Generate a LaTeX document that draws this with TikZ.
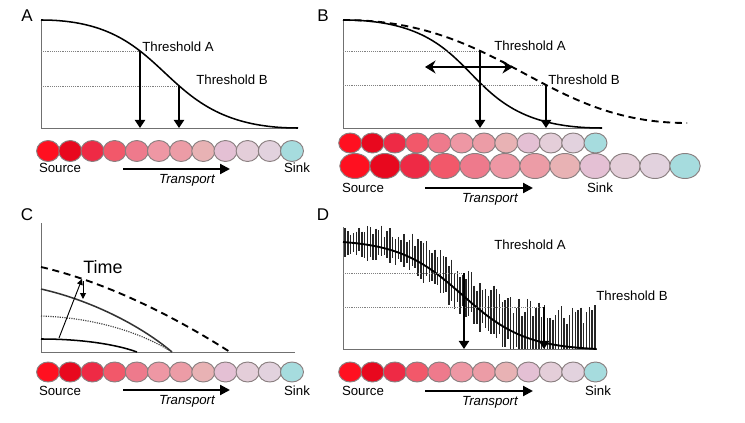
\documentclass[tikz,border=0pt]{standalone}
\usepackage{fontspec}
\setmainfont{Liberation Sans}
\usetikzlibrary{arrows.meta,shapes.geometric}

\newdimen\px \px=0.03cm

\definecolor{c1}{HTML}{FF1020}
\definecolor{c2}{HTML}{E8081E}
\definecolor{c3}{HTML}{EE2A45}
\definecolor{c4}{HTML}{F2586A}
\definecolor{c5}{HTML}{EE7A8C}
\definecolor{c6}{HTML}{EE97A4}
\definecolor{c7}{HTML}{EC9CA6}
\definecolor{c8}{HTML}{E8B2B4}
\definecolor{c9}{HTML}{E4C0D4}
\definecolor{c10}{HTML}{E4CED9}
\definecolor{c11}{HTML}{E2D2DE}
\definecolor{c12}{HTML}{A6DCDE}
\definecolor{cellrim}{HTML}{8A7F80}
\definecolor{axisgray}{HTML}{707070}

\tikzset{
  cell/.style={ellipse, draw=cellrim, line width=0.8pt, inner sep=0pt,
    minimum width=23\px, minimum height=20\px},
  bigcell/.style={cell, minimum width=30.5\px, minimum height=25\px},
  axis/.style={draw=axisgray, line width=0.8pt},
  level/.style={densely dotted, draw=gray, line width=0.6pt},
  curve/.style={line width=1.3pt},
  guess/.style={line width=1.6pt, dash pattern=on 6pt off 4pt},
  drop/.style={-{Triangle[length=7pt,width=9pt]}, line width=1.2pt},
  flow/.style={-{Triangle[length=8.5pt,width=8.5pt]}, line width=1.8pt},
  swing/.style={{Stealth[length=9pt,width=11pt]}-{Stealth[length=9pt,width=11pt]}, line width=2.5pt},
  spike/.style={line width=1.25pt, draw=black!85},
  lbl/.style={font=\fontsize{11.3}{13}\selectfont, inner sep=0pt},
  tp/.style={font=\fontsize{11.3}{13}\selectfont\itshape, inner sep=0pt},
  panel/.style={font=\fontsize{14.5}{16}\selectfont, inner sep=0pt},
  declare function={sig(\t)=(1/(1+exp(-8*(\t-0.47)))-0.02275)/0.96305;}
}

\begin{document}
\begin{tikzpicture}[x=0.03cm, y=-0.03cm]
  \useasboundingbox (0,0) rectangle (745,423);

  % panel A
  \node[panel] (labA) at (27,16) {A};
  \coordinate (topA) at (41,20);
  \coordinate (oA) at (41,128);
  \coordinate (endA) at (298,128);
  \draw[axis] (topA) -- (oA) -- (endA);
  \draw[curve] (topA) .. controls (178,20) and (152,128) .. (endA);
  \coordinate (hA1) at (140,51);
  \coordinate (hA2) at (179,86);
  \draw[level] (topA |- hA1) -- (hA1);
  \draw[level] (topA |- hA2) -- (hA2);
  \draw[drop] (hA1) -- (hA1 |- oA);
  \draw[drop] (hA2) -- (hA2 |- oA);
  \node[lbl] (thA1) at (178,47) {Threshold A};
  \node[lbl] (thA2) at (232,80) {Threshold B};
  \foreach \i in {1,...,12}
    \node[cell, fill=c\i, minimum height=21\px] (a\i) at ({48.1+(\i-1)*22.17},151) {};
  \node[lbl] (srcA) at (60,168) {Source};
  \node[lbl] (snkA) at (297,168) {Sink};
  \coordinate (trA1) at (123,169);
  \coordinate (trA2) at (230,169);
  \draw[flow] (trA1) -- (trA2);
  \node[tp] (tpA) at (187,180) {Transport};

  % panel B
  \node[panel] (labB) at (323,16) {B};
  \coordinate (topB) at (343,20);
  \coordinate (oB) at (343,128);
  \coordinate (endB) at (602,128);
  \coordinate (farB) at (687,123);
  \draw[axis] (topB) -- (oB) -- (endB);
  \draw[curve] (topB) .. controls (495,20) and (447,128) .. (endB);
  \draw[guess] (topB) .. controls (502,20) and (543,123) .. (farB);
  \coordinate (hB1) at (480,51);
  \coordinate (hB2) at (546,85);
  \draw[level] (topB |- hB1) -- (hB1);
  \draw[level] (topB |- hB2) -- (hB2);
  \draw[drop] (hB1) -- (hB1 |- oB);
  \draw[drop] (hB2) -- (hB2 |- oB);
  \coordinate (mvB1) at (425,67);
  \coordinate (mvB2) at (513,67);
  \draw[swing] (mvB1) -- (mvB2);
  \node[lbl] (thB1) at (530,46) {Threshold A};
  \node[lbl] (thB2) at (584,80) {Threshold B};
  \foreach \i in {1,...,12}
    \node[cell, fill=c\i] (b\i) at ({350.2+(\i-1)*22.3},143) {};
  \foreach \i in {1,...,12}
    \node[bigcell, fill=c\i] (bb\i) at ({355+(\i-1)*30},166) {};
  \node[lbl] (srcB) at (363,188) {Source};
  \node[lbl] (snkB) at (600,188) {Sink};
  \coordinate (trB1) at (425,188);
  \coordinate (trB2) at (533,188);
  \draw[flow] (trB1) -- (trB2);
  \node[tp] (tpB) at (490,199) {Transport};

  % panel C
  \node[panel] (labC) at (27,215) {C};
  \coordinate (topC) at (41,223);
  \coordinate (oC) at (41,352);
  \coordinate (endC) at (295,352);
  \draw[axis] (topC) -- (oC) -- (endC);
  \draw[guess] (41,267) .. controls (110,283) and (180,320) .. (230,352);
  \draw[curve, draw=black!80] (41,289) .. controls (90,300) and (140,325) .. (172,352);
  \draw[densely dotted, line width=1pt, draw=black!75] (41,316) .. controls (100,318) and (145,335) .. (172,352);
  \draw[curve] (41,339) .. controls (80,339) and (115,344) .. (137,352);
  \coordinate (tmC1) at (59,338);
  \coordinate (tmC2) at (82,279);
  \coordinate (tmC3) at (83,281);
  \coordinate (tmC4) at (83,299);
  \draw[-{Triangle[length=5pt,width=5pt]}, line width=0.8pt] (tmC1) -- (tmC2);
  \draw[-{Triangle[length=5pt,width=5pt]}, line width=0.8pt] (tmC3) -- (tmC4);
  \node[font=\fontsize{15.3}{17}\selectfont, inner sep=0pt] (time) at (103,267) {Time};
  \foreach \i in {1,...,12}
    \node[cell, fill=c\i] (c\i) at ({48.1+(\i-1)*22.17},372) {};
  \node[lbl] (srcC) at (60,391) {Source};
  \node[lbl] (snkC) at (297,391) {Sink};
  \coordinate (trC1) at (123,390);
  \coordinate (trC2) at (230,390);
  \draw[flow] (trC1) -- (trC2);
  \node[tp] (tpC) at (187,401) {Transport};

  % panel D
  \node[panel] (labD) at (323,215) {D};
  \coordinate (topD) at (343,227);
  \coordinate (oD) at (343,349);
  \coordinate (endD) at (597,349);
  \draw[axis] (topD) -- (oD) -- (endD);
  \pgfmathsetseed{11}
  \foreach \k in {0,...,89}{
    \pgfmathsetmacro{\u}{\k/89}
    \pgfmathsetmacro{\yc}{242+107*sig(\u)}
    \pgfmathsetmacro{\yt}{\yc-7-18*\u-rnd*(11+12*\u)}
    \pgfmathsetmacro{\yb}{min(349,\yc+5+6*\u+rnd*(11+12*\u))}
    \draw[spike] ({345+250*\u},\yt) -- ({345+250*\u},\yb);
  }
  \draw[curve, line width=1.6pt] plot[domain=0:1, samples=120] ({343+254*\x},{242+107*sig(\x)});
  \coordinate (hD1) at (464,273);
  \coordinate (hD2) at (544,307);
  \draw[level] (topD |- hD1) -- (hD1);
  \draw[level] (topD |- hD2) -- (hD2);
  \draw[drop] (hD1) -- (hD1 |- oD);
  \draw[drop] (hD2) -- (hD2 |- oD);
  \node[lbl] (thD1) at (530,245) {Threshold A};
  \node[lbl] (thD2) at (632,296) {Threshold B};
  \foreach \i in {1,...,12}
    \node[cell, fill=c\i] (d\i) at ({350.2+(\i-1)*22.3},372) {};
  \node[lbl] (srcD) at (363,391) {Source};
  \node[lbl] (snkD) at (598,391) {Sink};
  \coordinate (trD1) at (425,391);
  \coordinate (trD2) at (533,391);
  \draw[flow] (trD1) -- (trD2);
  \node[tp] (tpD) at (490,402) {Transport};
\end{tikzpicture}
\end{document}
